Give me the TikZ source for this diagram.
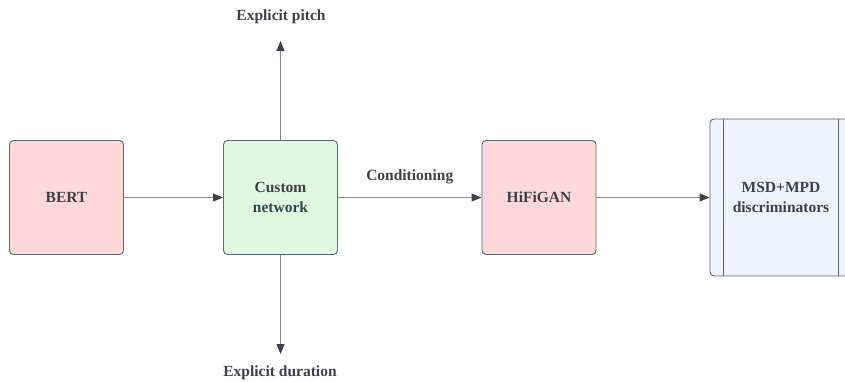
\documentclass[tikz,border=0pt]{standalone}
\usepackage{fontspec}
\setmainfont{Liberation Serif}
\usetikzlibrary{arrows.meta}
\definecolor{boxline}{HTML}{5F6670}
\definecolor{flowline}{HTML}{858B94}
\definecolor{inktext}{HTML}{3A414A}
\definecolor{pinkfill}{HTML}{FFD9DA}
\definecolor{greenfill}{HTML}{E1F9E1}
\definecolor{bluefill}{HTML}{EDF4FF}
\tikzset{
  block/.style   = {shape=rectangle, rounded corners=4pt, draw=boxline,
                    line width=0.9pt, align=center, text=inktext,
                    font=\bfseries\fontsize{15.5}{20}\selectfont,
                    minimum width=114pt, minimum height=114pt, inner sep=0pt},
  model/.style   = {block, fill=pinkfill},
  custom/.style  = {block, fill=greenfill},
  critic/.style  = {block, fill=bluefill, minimum width=142pt, minimum height=157pt},
  label/.style   = {text=inktext, font=\bfseries\fontsize{15.5}{18}\selectfont},
  flow/.style    = {draw=flowline, line width=1.1pt,
                    -{Triangle[length=10pt,width=8pt,color=inktext]}}
}
\begin{document}
\begin{tikzpicture}[x=1pt, y=-1pt]
  \useasboundingbox (0,0) rectangle (845,381);
  \clip (0,0) rectangle (845,381);
  \node [model]  (bert)   at (66.5,197.5)  {BERT};
  \node [custom] (net)    at (280.5,197.5) {Custom\\network};
  \node [model]  (hifi)   at (539,197.5)   {HiFiGAN};
  \node [critic] (disc)   at (781,197.5)   {MSD+MPD\\discriminators};
  \draw [boxline, line width=0.9pt] ([xshift=14pt]disc.north west) -- ([xshift=14pt]disc.south west);
  \draw [boxline, line width=0.9pt] ([xshift=-14pt]disc.north east) -- ([xshift=-14pt]disc.south east);
  \coordinate (pitchtip) at (280.5,41);
  \coordinate (durtip)   at (280.5,354);
  \node [label] (pitch) at (281,17)  {Explicit pitch};
  \node [label] (dur)   at (280,373) {Explicit duration};
  \draw [flow] (bert) -- (net);
  \draw [flow] (net) -- node [label, above=10pt] {Conditioning} (hifi);
  \draw [flow] (hifi) -- (disc);
  \draw [flow] (net) -- (pitchtip);
  \draw [flow] (net) -- (durtip);
\end{tikzpicture}
\end{document}
